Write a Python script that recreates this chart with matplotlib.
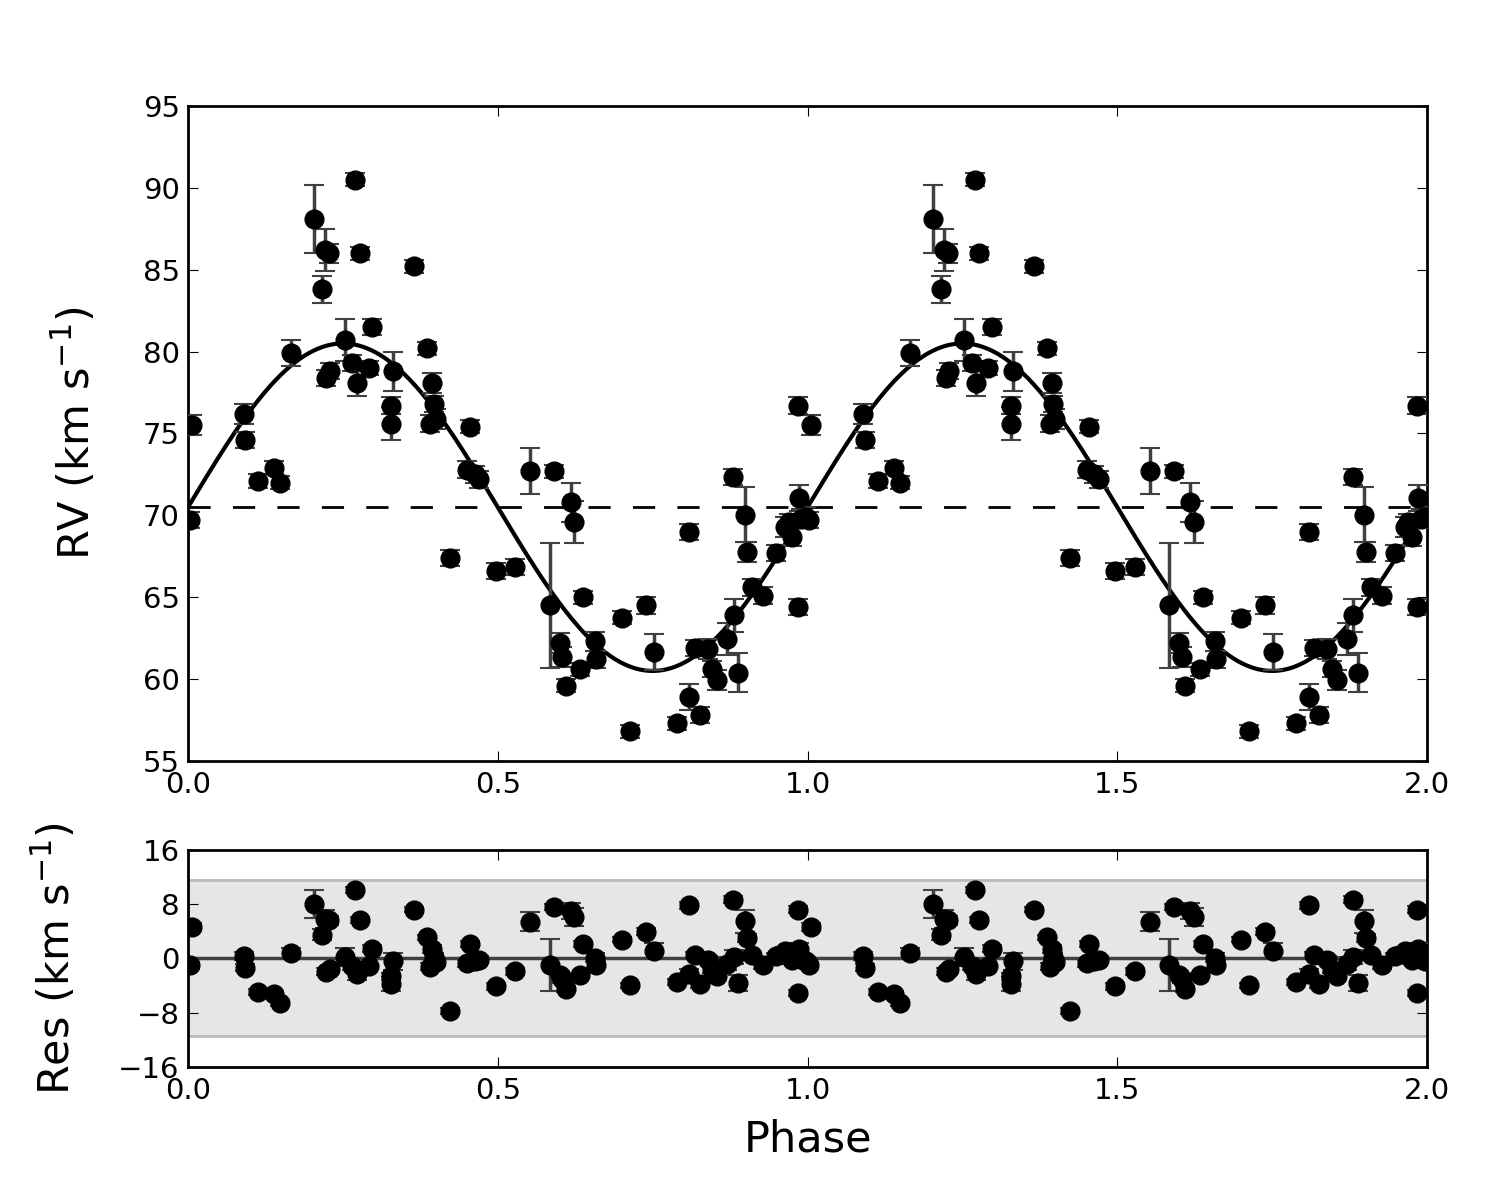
import numpy as np
import matplotlib
matplotlib.use("Agg")
import matplotlib.pyplot as plt

# ---- data (phase in [0,1), RV km/s, error km/s) ----
phase = [0.003, 0.006, 0.090, 0.092, 0.113, 0.139, 0.149, 0.166, 0.203, 0.216,
         0.221, 0.227, 0.223, 0.229, 0.253, 0.265, 0.270, 0.272, 0.277, 0.292,
         0.297, 0.328, 0.328, 0.331, 0.365, 0.386, 0.391, 0.394, 0.397, 0.400,
         0.423, 0.455, 0.451, 0.463, 0.470, 0.497, 0.528, 0.552, 0.591, 0.584,
         0.600, 0.604, 0.610, 0.618, 0.623, 0.633, 0.638, 0.657, 0.659, 0.700,
         0.713, 0.739, 0.752, 0.789, 0.809, 0.809, 0.818, 0.826, 0.839, 0.846,
         0.854, 0.870, 0.881, 0.880, 0.888, 0.899, 0.902, 0.910, 0.928, 0.949,
         0.964, 0.975, 0.970, 0.984, 0.984, 0.986, 0.990, 0.997]
rv = [69.7, 75.5, 76.2, 74.6, 72.1, 72.9, 72.0, 79.9, 88.1, 83.8,
      86.2, 86.0, 78.4, 78.8, 80.7, 79.3, 90.5, 78.1, 86.0, 79.0,
      81.5, 76.7, 75.6, 78.8, 85.2, 80.2, 75.6, 78.1, 76.8, 75.9,
      67.4, 75.4, 72.8, 72.5, 72.2, 66.6, 66.85, 72.7, 72.7, 64.5,
      62.2, 61.35, 59.6, 70.8, 69.6, 60.6, 65.0, 62.3, 61.2, 63.75,
      56.8, 64.5, 61.65, 57.3, 69.0, 58.9, 61.9, 57.8, 61.85, 60.6,
      59.95, 62.45, 63.9, 72.35, 60.4, 70.05, 67.75, 65.6, 65.1, 67.7,
      69.3, 68.7, 69.6, 64.4, 76.7, 71.05, 69.8, 69.9]
rv_err = [0.5, 0.6, 0.6, 0.5, 0.4, 0.4, 0.4, 0.8, 2.1, 0.8,
          1.3, 0.6, 0.5, 0.5, 1.3, 0.5, 0.4, 0.8, 0.4, 0.4,
          0.5, 0.5, 1.0, 1.2, 0.4, 0.4, 0.5, 0.6, 0.5, 0.6,
          0.5, 0.4, 0.5, 0.5, 0.5, 0.5, 0.5, 1.4, 0.4, 3.8,
          0.6, 0.6, 0.4, 1.2, 1.3, 0.4, 0.4, 0.6, 0.5, 0.4,
          0.4, 0.5, 1.1, 0.4, 0.5, 0.8, 0.5, 0.5, 0.6, 0.5,
          0.6, 1.0, 1.0, 0.5, 1.2, 1.7, 0.6, 0.5, 0.5, 0.5,
          0.6, 0.6, 0.5, 0.5, 0.5, 0.8, 0.6, 0.6]

gamma = 70.5        # systemic velocity
K = 10.0            # semi-amplitude
res_band = 11.5     # shaded residual band half-width

phase = np.array(phase)
rv = np.array(rv)
rv_err = np.array(rv_err)

def model(ph):
    return gamma + K * np.sin(2 * np.pi * ph)

res = rv - model(phase)

ph2 = np.concatenate([phase, phase + 1])
rv2 = np.concatenate([rv, rv])
err2 = np.concatenate([rv_err, rv_err])
res2 = np.concatenate([res, res])

plt.rcParams['font.family'] = ['DejaVu Sans']
plt.rcParams['xtick.direction'] = 'in'
plt.rcParams['ytick.direction'] = 'in'
plt.rcParams['xtick.top'] = True
plt.rcParams['ytick.right'] = True
plt.rcParams['xtick.major.size'] = 7
plt.rcParams['ytick.major.size'] = 7
plt.rcParams['xtick.major.pad'] = 7
plt.rcParams['ytick.major.pad'] = 6

fig = plt.figure(figsize=(15.09, 11.82), dpi=100)
ax1 = fig.add_axes([0.1246, 0.3562, 0.8211, 0.5541])
ax2 = fig.add_axes([0.1246, 0.0973, 0.8211, 0.1836])

xm = np.linspace(0, 2, 800)
ax1.plot(xm, model(xm), color='black', lw=3, zorder=3)
ax1.axhline(gamma, color='black', lw=2, dashes=(8, 8), zorder=2)
ax1.errorbar(ph2, rv2, yerr=err2, fmt='o', color='black', ms=13.5,
             ecolor='0.25', elinewidth=2.5, capsize=7, capthick=1.5, zorder=4)
ax1.set_xlim(0, 2)
ax1.set_ylim(55, 95)
ax1.set_yticks(np.arange(55, 96, 5))
ax1.set_xticks([0.0, 0.5, 1.0, 1.5, 2.0])
ax1.set_xticklabels(['0.0', '0.5', '1.0', '1.5', '2.0'])
ax1.tick_params(labelsize=21)
ax1.set_ylabel('RV (km s$^{-1}$)', fontsize=31)
ax1.yaxis.set_label_coords(-0.072, 0.5)

ax2.axhspan(-res_band, res_band, facecolor='#e6e6e6', edgecolor='#bbbbbb', lw=2, zorder=0)
ax2.axhline(0, color='0.25', lw=2.5, zorder=2)
ax2.errorbar(ph2, res2, yerr=err2, fmt='o', color='black', ms=13.5,
             ecolor='0.25', elinewidth=2.5, capsize=7, capthick=1.5, zorder=4)
ax2.set_xlim(0, 2)
ax2.set_ylim(-16, 16)
ax2.set_yticks([-16, -8, 0, 8, 16])
ax2.set_xticks([0.0, 0.5, 1.0, 1.5, 2.0])
ax2.set_xticklabels(['0.0', '0.5', '1.0', '1.5', '2.0'])
ax2.tick_params(labelsize=21)
ax2.set_ylabel('Res (km s$^{-1}$)', fontsize=31)
ax2.yaxis.set_label_coords(-0.088, 0.5)
ax2.set_xlabel('Phase', fontsize=31, labelpad=10)

for ax in (ax1, ax2):
    for s in ax.spines.values():
        s.set_linewidth(2)

fig.savefig('out.png', dpi=100)
